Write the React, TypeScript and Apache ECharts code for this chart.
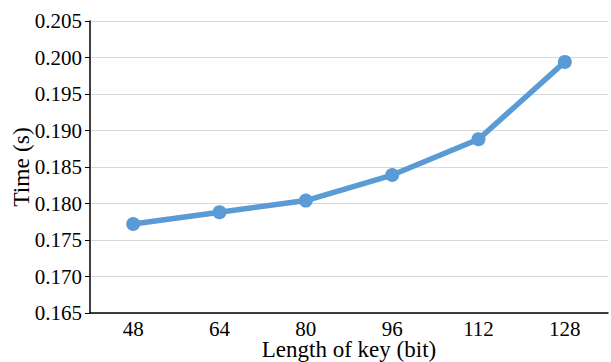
import React, { useEffect, useRef } from "react";
import * as echarts from "echarts";

const categories = ["48", "64", "80", "96", "112", "128"];
const timeValues = [0.1772, 0.1788, 0.1804, 0.1839, 0.1888, 0.1994];

export default function App() {
  const ref = useRef<HTMLDivElement>(null);
  useEffect(() => {
    const chart = echarts.init(ref.current!, null, { renderer: "svg" });
    const font = "Times New Roman, Liberation Serif, serif";
    chart.setOption({
      animation: false,
      backgroundColor: "#ffffff",
      textStyle: { fontFamily: font },
      grid: {
        left: 90,
        right: 3,
        top: 21,
        bottom: 49,
        containLabel: false,
        outerBoundsMode: "none",
      },
      xAxis: {
        type: "category",
        data: categories,
        boundaryGap: true,
        name: "Length of key (bit)",
        nameLocation: "middle",
        nameGap: 26,
        nameMoveOverlap: false,
        nameTextStyle: { fontFamily: font, fontSize: 23, color: "#000", lineHeight: 20 },
        axisLine: { lineStyle: { color: "#000", width: 1.5 } },
        axisTick: { alignWithLabel: true, inside: true, length: 5, lineStyle: { color: "#000" } },
        axisLabel: { fontFamily: font, fontSize: 21, color: "#000", margin: 7, lineHeight: 18 },
        splitLine: { show: false },
      },
      yAxis: {
        type: "value",
        min: 0.165,
        max: 0.205,
        interval: 0.005,
        name: "Time (s)",
        nameLocation: "middle",
        nameGap: 57,
        nameMoveOverlap: false,
        nameRotate: 90,
        nameTextStyle: { fontFamily: font, fontSize: 23.5, color: "#000" },
        axisLine: { show: true, lineStyle: { color: "#000", width: 1.5 } },
        axisTick: { show: true, length: 5, lineStyle: { color: "#000" } },
        axisLabel: {
          fontFamily: font,
          fontSize: 21,
          color: "#000",
          margin: 8,
          formatter: (v: number) => v.toFixed(3),
        },
        splitLine: { show: true, lineStyle: { color: "#d9d9d9", width: 1.2 } },
      },
      series: [
        {
          type: "line",
          data: timeValues,
          symbol: "circle",
          symbolSize: 14,
          lineStyle: { color: "#5b9bd5", width: 5.5 },
          itemStyle: { color: "#5b9bd5" },
        },
      ],
    });
    return () => chart.dispose();
  }, []);
  return (
    <div
      ref={ref}
      style={{ position: "absolute", left: 0, top: 0, width: 611, height: 362, background: "#fff" }}
    />
  );
}
